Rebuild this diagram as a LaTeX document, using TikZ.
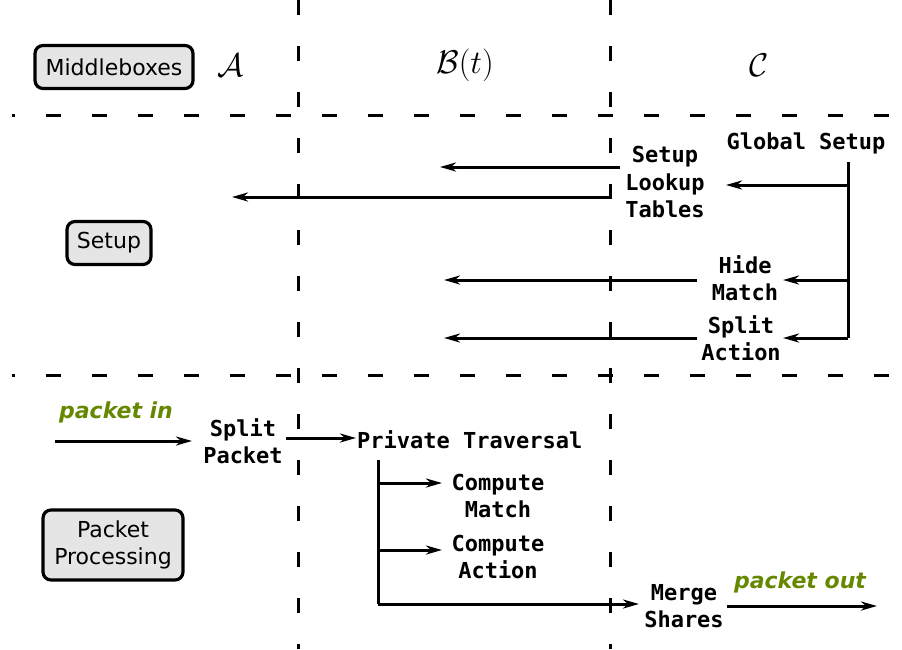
\documentclass[tikz,border=0pt]{standalone}
\usepackage{graphicx}
\usepackage{fontspec}
\setmainfont{DejaVu Sans}
\newfontfamily\monob{DejaVu Sans Mono}[BoldFont={DejaVu Sans Mono Bold}]
\usetikzlibrary{arrows.meta}
\definecolor{pgreen}{RGB}{102,136,0}
\definecolor{boxgray}{gray}{0.9}
\newcommand{\bigparty}[1]{\scalebox{1.32}{\fontsize{24.88}{28}\selectfont$#1$}}
\tikzset{
  sep/.style={line width=3pt, dash pattern=on 15pt off 31pt},
  phase/.style={draw, fill=boxgray, rounded corners=8pt, line width=3.2pt, align=center,
     inner xsep=9pt, inner ysep=8pt, font=\fontsize{22}{27.5}\selectfont},
  lbl/.style={align=center, inner sep=1pt, font=\monob\bfseries\fontsize{22}{27.5}\selectfont},
  party/.style={inner sep=1pt},
  flow/.style={font=\bfseries\itshape\fontsize{22}{26}\selectfont, text=pgreen},
  arr/.style={line width=3pt, -{Stealth[length=16pt,width=9pt,inset=5pt]}},
  ln/.style={line width=3pt}
}
\begin{document}
\begin{tikzpicture}[x=1pt,y=-1pt]
\useasboundingbox (0,0) rectangle (902,649);
% separators
\draw[sep] (298,0) -- (298,649);
\draw[sep] (610,0) -- (610,649);
\draw[sep, dash phase=12pt] (12,115) -- (902,115);
\draw[sep, dash phase=12pt] (12,375) -- (902,375);
% header
\node[phase, minimum width=158pt, minimum height=43pt] (mb) at (114,67) {Middleboxes};
\node[party] (pa) at (231,65) {\bigparty{\mathcal{A}}};
\node[party] (pb) at (465,65) {\bigparty{\mathcal{B}(t)}};
\node[party] (pc) at (759,65) {\bigparty{\mathcal{C}}};
% setup
\node[phase, minimum width=84pt, minimum height=43pt] (su) at (109,243) {Setup};
\node[lbl] (gs) at (806,143) {Global Setup};
\node[lbl] (slt) at (665,182) {Setup\\Lookup\\Tables};
\node[lbl] (hm) at (745,278) {Hide\\Match};
\node[lbl] (sa) at (741,338) {Split\\Action};
\coordinate (gtop) at (848,162);
\coordinate (gbot) at (848,338);
\draw[ln] (gtop) -- (gbot);
\draw[arr] (848,185) -- (726,185);
\draw[arr] (848,280) -- (783,280);
\draw[arr] (gbot) -- (783,338);
\coordinate (toB1) at (440,167);
\coordinate (toA) at (232,197);
\coordinate (toB2) at (444,280);
\coordinate (toB3) at (444,338);
\draw[arr] (620,167) -- (toB1);
\draw[arr] (612,197) -- (toA);
\draw[arr] (697,280) -- (toB2);
\draw[arr] (697,338) -- (toB3);
% packet processing
\node[phase, minimum width=140pt, minimum height=70pt] (pp) at (113,545) {Packet\\Processing};
\node[flow] (pin) at (116,412) {packet in};
\coordinate (inS) at (55,441);
\node[lbl] (sp) at (243,441) {Split\\Packet};
\draw[arr] (inS) -- (192,441);
\node[lbl, anchor=west] (pt) at (356,440) {Private Traversal};
\draw[arr] (286,438) -- (pt.west |- 0,438);
\node[lbl] (cm) at (498,496) {Compute\\Match};
\node[lbl] (ca) at (498,557) {Compute\\Action};
\node[lbl] (ms) at (684,606) {Merge\\Shares};
\coordinate (vt) at (378,460);
\coordinate (vb) at (378,604);
\draw[ln] (vt) -- (vb);
\draw[arr] (378,483) -- (442,483);
\draw[arr] (378,550) -- (442,550);
\draw[arr] (vb) -- (639,604);
\node[flow] (pout) at (800,582) {packet out};
\coordinate (outE) at (877,606);
\draw[arr] (727,606) -- (outE);
\end{tikzpicture}
\end{document}
